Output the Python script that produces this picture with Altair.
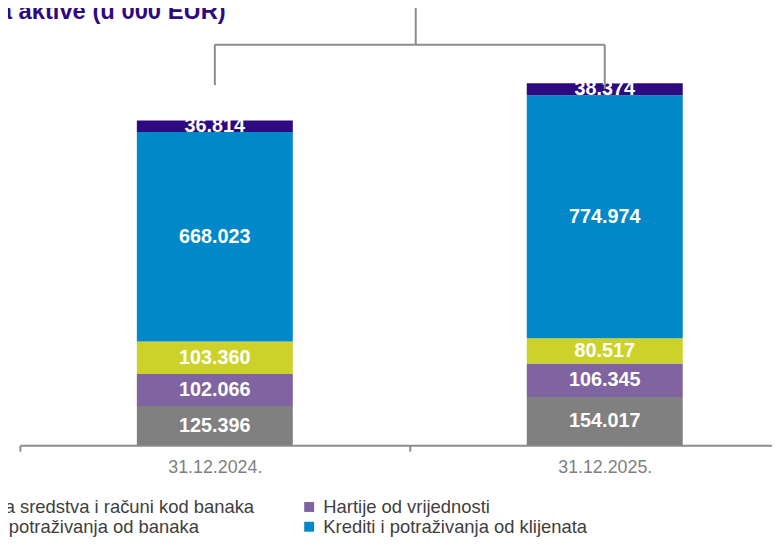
import altair as alt
import pandas as pd

# ---- data ----
dates = ["31.12.2024.", "31.12.2025."]
categories = [
    "Novčana sredstva i računi kod banaka",
    "Hartije od vrijednosti",
    "Krediti i potraživanja od banaka",
    "Krediti i potraživanja od klijenata",
    "Ostala aktiva",
]
novcana = [125396, 154017]
hartije = [102066, 106345]
krediti_banke = [103360, 80517]
krediti_klijenti = [668023, 774974]
ostalo = [36814, 38374]
series = [novcana, hartije, krediti_banke, krediti_klijenti, ostalo]
colors = ["#808080", "#8064A2", "#CDD22B", "#0088C8", "#2E0A80"]
title_text = "a aktive (u 000 EUR)"

rows = []
for ci, (cat, vals) in enumerate(zip(categories, series)):
    for d, v in zip(dates, vals):
        rows.append({"date": d, "cat": cat, "order": ci, "value": v,
                     "label": f"{v:,}".replace(",", ".")})
df = pd.DataFrame(rows)

# legend is filled column by column
legend_order = [categories[0], categories[2], categories[1], categories[3], categories[4]]
legend_colors = [colors[categories.index(c)] for c in legend_order]

# bracket annotation (value units)
br_top = 1277000
bracket = pd.DataFrame([
    {"x": dates[0], "x2": dates[0], "y": 1148000, "y2": br_top},
    {"x": dates[1], "x2": dates[1], "y": 1136000, "y2": br_top},
    {"x": dates[0], "x2": dates[1], "y": br_top, "y2": br_top},
])
bracket_mid = pd.DataFrame([{"x": dates[0], "y": br_top, "y2": 1430000}])

FONT = "Liberation Sans"
xscale = alt.Scale(domain=dates, range=[12, 800], paddingInner=0, paddingOuter=0)
yscale = alt.Scale(domain=[0, 1385000])

base = alt.Chart(df)

bars = base.mark_bar(width=alt.RelativeBandSize(0.4)).encode(
    x=alt.X("date:N", scale=xscale, sort=dates,
            axis=alt.Axis(title=None, labelAngle=0, labelFont=FONT, labelFontSize=18,
                          labelColor="#7f7f7f", labelPadding=7, domainColor="#8c8c8c",
                          domainWidth=2, tickColor="#8c8c8c", tickWidth=2, tickSize=6,
                          tickBand="extent", grid=False)),
    y=alt.Y("value:Q", stack="zero", scale=yscale, axis=None),
    color=alt.Color("cat:N", scale=alt.Scale(domain=legend_order, range=legend_colors),
                    legend=alt.Legend(orient="none", legendX=-90, legendY=492, columns=2,
                                      columnPadding=46, rowPadding=1, title=None,
                                      values=legend_order[:4], symbolType="square",
                                      symbolSize=100, symbolStrokeWidth=0,
                                      labelFont=FONT, labelFontSize=18.6, labelColor="#404040",
                                      labelOffset=5, labelLimit=500, padding=0)),
    order=alt.Order("order:Q"),
)

labels = base.transform_stack(
    stack="value", groupby=["date"], as_=["v0", "v1"],
    sort=[alt.SortField("order", order="ascending")],
).transform_calculate(mid="(datum.v0 + datum.v1) / 2").mark_text(
    font=FONT, fontSize=20, fontWeight="bold", color="white", baseline="middle"
).encode(
    x=alt.X("date:N", scale=xscale, sort=dates),
    y=alt.Y("mid:Q", scale=yscale),
    text="label:N",
)

rules = alt.Chart(bracket).mark_rule(color="#8c8c8c", strokeWidth=2).encode(
    x=alt.X("x:N", scale=xscale), x2="x2:N",
    y=alt.Y("y:Q", scale=yscale), y2="y2:Q",
)
rule_mid = alt.Chart(bracket_mid).mark_rule(color="#8c8c8c", strokeWidth=2, xOffset=6).encode(
    x=alt.X("x:N", scale=xscale, bandPosition=1),
    y=alt.Y("y:Q", scale=yscale), y2="y2:Q",
)

title = alt.Chart(pd.DataFrame({"t": [title_text]})).mark_text(
    font=FONT, fontSize=24, fontWeight="bold", color="#2E0A82", align="right",
    baseline="alphabetic"
).encode(text="t:N", x=alt.value(220), y=alt.value(8))

chart = alt.layer(bars, labels, rules, rule_mid, title).properties(
    width=772, height=439,
    autosize=alt.AutoSizeParams(type="none"),
    padding={"left": 0, "top": 0, "right": 0, "bottom": 108},
).configure_view(strokeWidth=0)

chart.save("out.html", embed_options={"renderer": "svg", "actions": False})
